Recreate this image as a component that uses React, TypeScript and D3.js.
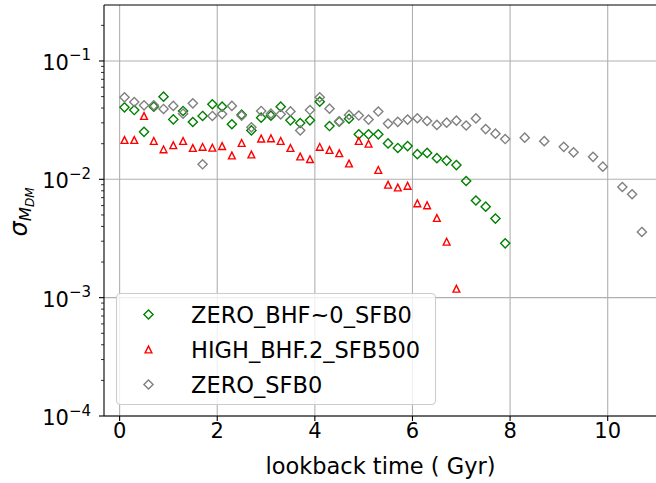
import React from "react";
import * as d3 from "d3";

const timesZero: number[] = [0.1,0.3,0.5,0.7,0.9,1.1,1.3,1.5,1.7,1.9,2.1,2.3,2.5,2.7,2.9,3.1,3.3,3.5,3.7,3.9,4.1,4.3,4.5,4.7,4.9,5.1,5.3,5.5,5.7,5.9,6.1,6.3,6.5,6.7,6.9,7.1,7.3,7.5,7.7,7.9];
const greenValues: number[] = [0.0406,0.0385,0.0252,0.0411,0.0499,0.0321,0.0378,0.0305,0.0343,0.0431,0.0411,0.0292,0.0352,0.0259,0.0332,0.0345,0.0411,0.0315,0.0299,0.0315,0.0453,0.0282,0.0307,0.0325,0.0240,0.0240,0.0240,0.0201,0.0184,0.0191,0.0163,0.0167,0.0151,0.0144,0.0132,0.00968,0.00662,0.00587,0.00466,0.00288];
const timesHigh: number[] = [0.1,0.3,0.5,0.7,0.9,1.1,1.3,1.5,1.7,1.9,2.1,2.3,2.5,2.7,2.9,3.1,3.3,3.5,3.7,3.9,4.1,4.3,4.5,4.7,4.9,5.1,5.3,5.5,5.7,5.9,6.1,6.3,6.5,6.7,6.9];
const redValues: number[] = [0.0215,0.0215,0.0343,0.0211,0.0179,0.0194,0.0211,0.0184,0.0188,0.0185,0.0191,0.0159,0.0203,0.0162,0.0221,0.0222,0.0211,0.0184,0.0156,0.0148,0.0188,0.0177,0.0166,0.0136,0.0211,0.0200,0.0120,0.0090,0.00853,0.00881,0.00627,0.00603,0.00471,0.00297,0.00119];
const timesGray: number[] = [0.1,0.3,0.5,0.7,0.9,1.1,1.3,1.5,1.7,1.9,2.1,2.3,2.5,2.7,2.9,3.1,3.3,3.5,3.7,3.9,4.1,4.3,4.5,4.7,4.9,5.1,5.3,5.5,5.7,5.9,6.1,6.3,6.5,6.7,6.9,7.1,7.3,7.5,7.7,7.9,8.3,8.7,9.1,9.3,9.7,9.9,10.3,10.5,10.7];
const grayValues: number[] = [0.0493,0.0450,0.0422,0.0422,0.0393,0.0417,0.0359,0.0439,0.0134,0.0343,0.0356,0.0417,0.0345,0.0275,0.0378,0.0359,0.0354,0.0375,0.0259,0.0385,0.0493,0.0395,0.0309,0.0350,0.0346,0.0320,0.0374,0.0296,0.0306,0.0320,0.0328,0.0311,0.0288,0.0301,0.0313,0.0285,0.0327,0.0266,0.0243,0.0219,0.0225,0.0210,0.0188,0.0169,0.0155,0.0128,0.00861,0.00748,0.00359];

const seriesNames: string[] = ["ZERO_BHF~0_SFB0", "HIGH_BHF.2_SFB500", "ZERO_SFB0"];
const xTicks: number[] = [0, 2, 4, 6, 8, 10];
const yExponents: number[] = [-1, -2, -3, -4];

const FONT = "DejaVu Sans, sans-serif";

const diamond = (s: number) => `M0,${-s}L${s},0L0,${s}L${-s},0Z`;
const triangle = (s: number) => `M0,${-s}L${s},${s}L${-s},${s}Z`;

export default function App() {
  const W = 656, H = 483;
  const left = 104, right = 657, top = 5, bottom = 416;
  const x = d3.scaleLinear().domain([-0.32, 11.01]).range([left, right]);
  const y = d3.scaleLog().domain([1e-4, Math.pow(10, -0.527)]).range([bottom, top]);

  const minorTicks: number[] = [];
  for (let e = -4; e <= -1; e++) {
    for (let m = 2; m <= 9; m++) {
      const v = m * Math.pow(10, e);
      if (v < y.domain()[1]) minorTicks.push(v);
    }
  }

  const series = [
    { name: seriesNames[0], xs: timesZero, ys: greenValues, color: "#008000", shape: diamond(4.6) },
    { name: seriesNames[1], xs: timesHigh, ys: redValues, color: "#ff0000", shape: triangle(3.4) },
    { name: seriesNames[2], xs: timesGray, ys: grayValues, color: "#808080", shape: diamond(4.6) },
  ];

  return (
    <svg width={W} height={H} style={{ display: "block", position: "absolute", left: 0, top: 0 }} fontFamily={FONT}>
      <rect x={0} y={0} width={W} height={H} fill="#ffffff" />
      {/* grid */}
      <g stroke="#b0b0b0" strokeWidth={1.1}>
        {xTicks.map((t) => (
          <line key={"gx" + t} x1={x(t)} x2={x(t)} y1={top} y2={bottom} />
        ))}
        {yExponents.map((e) => (
          <line key={"gy" + e} x1={left} x2={right} y1={y(Math.pow(10, e))} y2={y(Math.pow(10, e))} />
        ))}
      </g>
      {/* data */}
      {series.map((s) => (
        <g key={s.name} fill="none" stroke={s.color} strokeWidth={1.4}>
          {s.xs.map((t, i) => (
            <path key={i} d={s.shape} transform={`translate(${x(t)},${y(s.ys[i])})`} />
          ))}
        </g>
      ))}
      {/* spines */}
      <g stroke="#000" strokeWidth={1.1} fill="none">
        <line x1={left} x2={left} y1={top} y2={bottom} />
        <line x1={left} x2={right} y1={bottom} y2={bottom} />
        <line x1={left} x2={right} y1={top} y2={top} />
        <line x1={right} x2={right} y1={top} y2={bottom} />
      </g>
      {/* x ticks */}
      {xTicks.map((t) => (
        <g key={"xt" + t}>
          <line x1={x(t)} x2={x(t)} y1={bottom} y2={bottom + 5} stroke="#000" strokeWidth={1.1} />
          <text x={x(t)} y={438} textAnchor="middle" fontSize={21} fill="#000">{t}</text>
        </g>
      ))}
      {/* y ticks */}
      {yExponents.map((e) => {
        const py = y(Math.pow(10, e));
        return (
          <g key={"yt" + e}>
            <line x1={left - 5} x2={left} y1={py} y2={py} stroke="#000" strokeWidth={1.1} />
            <text x={91} y={py + 9} textAnchor="end" fill="#000" fontSize={21}>
              10<tspan fontSize={15} dy={-9.5}>{"\u2212" + Math.abs(e)}</tspan>
            </text>
          </g>
        );
      })}
      {minorTicks.map((v) => (
        <line key={"mt" + v} x1={left - 3} x2={left} y1={y(v)} y2={y(v)} stroke="#000" strokeWidth={0.8} />
      ))}
      {/* axis labels */}
      <text x={(left + right) / 2} y={474} textAnchor="middle" fontSize={22.5} fill="#000">lookback time ( Gyr)</text>
      <text transform="translate(27,212) rotate(-90)" textAnchor="middle" fill="#000" fontSize={24}>
        <tspan fontStyle="italic">σ</tspan>
        <tspan fontStyle="italic" fontSize={16.5} dy={4}>M</tspan>
        <tspan fontStyle="italic" fontSize={12} dy={3}>DM</tspan>
      </text>
      {/* legend */}
      <g>
        <rect x={116.5} y={293.5} width={319} height={111} rx={4} ry={4} fill="#ffffff" fillOpacity={0.8} stroke="#cccccc" strokeWidth={1.1} />
        {series.map((s, i) => {
          const ry = 314.5 + i * 35;
          return (
            <g key={"lg" + i}>
              <path d={s.shape} transform={`translate(148.5,${ry})`} fill="none" stroke={s.color} strokeWidth={1.4} />
              <text x={191} y={ry + 8} fontSize={22.5} fill="#000">{s.name}</text>
            </g>
          );
        })}
      </g>
    </svg>
  );
}
